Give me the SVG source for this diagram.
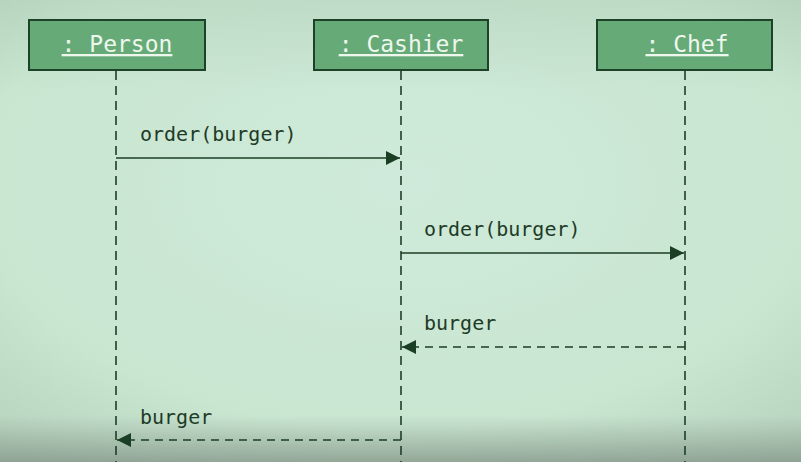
<svg xmlns="http://www.w3.org/2000/svg" width="801" height="462" viewBox="0 0 801 462">
<defs>
<radialGradient id="bg" cx="0.5" cy="0.4" r="0.75">
<stop offset="0" stop-color="#cfeada"/>
<stop offset="0.7" stop-color="#c9e6d1"/>
<stop offset="1" stop-color="#b6d3be"/>
</radialGradient>
<linearGradient id="bot" x1="0" y1="0" x2="0" y2="1">
<stop offset="0" stop-color="#8a9a8c" stop-opacity="0"/>
<stop offset="0.9" stop-color="#8a9a8c" stop-opacity="0"/>
<stop offset="1" stop-color="#7f8f82" stop-opacity="0.7"/>
</linearGradient>
<linearGradient id="top" x1="0" y1="0" x2="0" y2="1">
<stop offset="0" stop-color="#a9c6b0" stop-opacity="0.35"/>
<stop offset="0.2" stop-color="#a9c6b0" stop-opacity="0"/>
</linearGradient>
<marker id="filled" viewBox="0 0 14 14" refX="14" refY="7" markerWidth="14" markerHeight="14" markerUnits="userSpaceOnUse" orient="auto">
<path d="M0,0 L14,7 L0,14 Z" fill="#1b3f25"/>
</marker>
<style>
.box{fill:#66aa77;stroke:#1d4228;stroke-width:2}
.name{font-family:"DejaVu Sans Mono",monospace;font-size:23px;fill:#eef7ee;text-decoration:underline;text-anchor:middle}
.life{stroke:#1f3f28;stroke-width:1.6;stroke-dasharray:9 6;fill:none}
.msg{stroke:#1b3f25;stroke-width:1.6;fill:none}
.ret{stroke:#1b3f25;stroke-width:1.6;stroke-dasharray:8 6;fill:none}
.lbl{font-family:"DejaVu Sans Mono",monospace;font-size:20px;fill:#1e3b26}
</style>
</defs>
<rect width="801" height="462" fill="url(#bg)"/>
<rect width="801" height="462" fill="url(#top)"/>
<rect width="801" height="462" fill="url(#bot)"/>
<g id="person">
<rect class="box" x="29" y="20" width="176" height="50"/>
<text class="name" x="117" y="52">: Person</text>
</g>
<g id="cashier">
<rect class="box" x="314" y="20" width="174" height="50"/>
<text class="name" x="401" y="52">: Cashier</text>
</g>
<g id="chef">
<rect class="box" x="597" y="20" width="175" height="50"/>
<text class="name" x="687" y="52">: Chef</text>
</g>
<g id="connectors">
<line class="life" x1="116" y1="71" x2="116" y2="462"/>
<line class="life" x1="401" y1="71" x2="401" y2="462"/>
<line class="life" x1="685" y1="71" x2="685" y2="462"/>
<line class="msg" x1="116" y1="158" x2="400" y2="158" marker-end="url(#filled)"/>
<text class="lbl" x="140" y="141">order(burger)</text>
<line class="msg" x1="401" y1="253" x2="684" y2="253" marker-end="url(#filled)"/>
<text class="lbl" x="424" y="236">order(burger)</text>
<line class="ret" x1="685" y1="347" x2="402" y2="347" marker-end="url(#filled)"/>
<text class="lbl" x="424" y="330">burger</text>
<line class="ret" x1="401" y1="440" x2="117" y2="440" marker-end="url(#filled)"/>
<text class="lbl" x="140" y="424">burger</text>
</g>
</svg>
